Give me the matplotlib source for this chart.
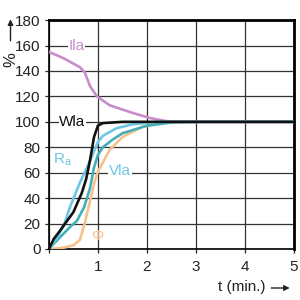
import matplotlib
matplotlib.use("Agg")
import matplotlib.pyplot as plt

plt.rcParams['font.family'] = ['Liberation Sans', 'DejaVu Sans']

# data
t_ila = [0, 0.3, 0.63, 0.73, 0.84, 0.98, 1.24, 1.71, 2.06, 2.4, 3, 5]
ila = [155, 150, 143, 139, 128, 120, 113, 107, 103, 100.5, 100, 100]

t_phi = [0, 0.3, 0.5, 0.63, 0.73, 0.84, 0.94, 1.0, 1.1, 1.24, 1.5, 1.9, 2.3, 3, 5]
phi = [0, 1, 3, 7, 20, 38, 54, 61, 68, 78, 88, 96, 99, 100, 100]

t_vla = [0, 0.22, 0.45, 0.57, 0.72, 0.84, 0.92, 1.0, 1.1, 1.3, 1.5, 2.0, 2.5, 3, 5]
vla = [0, 9, 18, 22, 33, 48, 64, 74, 80, 86, 91, 97, 99.5, 100, 100]

t_ra = [0, 0.15, 0.3, 0.43, 0.63, 0.8, 0.9, 1.0, 1.1, 1.38, 1.7, 2.2, 3, 5]
ra = [0, 8, 18, 33, 52, 66, 75, 84, 89, 95, 98, 100, 100, 100]

t_wla = [0, 0.1, 0.2, 0.33, 0.5, 0.67, 0.76, 0.84, 0.92, 1.0, 1.1, 1.5, 2, 3, 5]
wla = [0, 8, 13, 20, 29, 44, 55, 70, 88, 97, 99, 100, 100, 100, 100]

x_ticks = [0, 1, 2, 3, 4, 5]
x_labels = ['', '1', '2', '3', '4', '5']
y_ticks = [0, 20, 40, 60, 80, 100, 120, 140, 160, 180]

c_ila = '#c98ccb'
c_phi = '#f6c18e'
c_vla = '#45afb9'
c_ra = '#6cc6e6'
c_wla = '#111111'

fig = plt.figure(figsize=(3, 3), dpi=100)
ax = fig.add_axes([0.163, 0.17, 0.817, 0.763])

ax.plot(t_ila, ila, color=c_ila, lw=1.9, zorder=3)
ax.plot(t_phi, phi, color=c_phi, lw=1.9, zorder=3)
ax.plot(t_vla, vla, color=c_vla, lw=1.9, zorder=4)
ax.plot(t_ra, ra, color=c_ra, lw=1.9, zorder=4)
ax.plot(t_wla, wla, color=c_wla, lw=1.9, zorder=5)

ax.set_xlim(0, 5)
ax.set_ylim(0, 180)
ax.set_xticks(x_ticks)
ax.set_xticklabels(x_labels)
ax.set_yticks(y_ticks)
ax.grid(True, color='#333333', lw=0.9, zorder=1)
ax.set_axisbelow(True)
ax.tick_params(labelsize=11, length=3, width=0.9, colors='#222222', pad=3)
ax.tick_params(axis='x', pad=5)
for s in ['left', 'bottom']:
    ax.spines[s].set_linewidth(1.2)
for s in ['top', 'right']:
    ax.spines[s].set_linewidth(2.0)

bbox = dict(facecolor='white', edgecolor='none', pad=0.5)
ax.text(0.56, 160, 'Ila', color=c_ila, fontsize=11, ha='center', va='center', bbox=bbox, zorder=6)
ax.text(0.48, 100, 'Wla', color='#111111', fontsize=11, ha='center', va='center', bbox=bbox, zorder=6)
ax.text(0.28, 70, r'R$_\mathregular{a}$', color=c_ra, fontsize=11, ha='center', va='center', zorder=6)
ax.text(1.45, 61, 'Vla', color=c_ra, fontsize=11, ha='center', va='center', bbox=bbox, zorder=6)
ax.text(0.98, 10, 'Φ', color=c_phi, fontsize=11, ha='center', va='center', zorder=6)

fig.text(0.035, 0.80, '%', rotation=90, fontsize=12, ha='center', va='center', color='#222222')
ax.annotate('', xy=(0.035, 0.945), xytext=(0.035, 0.855), xycoords='figure fraction',
            arrowprops=dict(arrowstyle='-|>', color='#222222', lw=1.0, mutation_scale=8))
fig.text(0.805, 0.045, 't (min.)', fontsize=11, ha='center', va='center', color='#222222')
ax.annotate('', xy=(0.975, 0.04), xytext=(0.895, 0.04), xycoords='figure fraction',
            arrowprops=dict(arrowstyle='-|>', color='#222222', lw=1.0, mutation_scale=8))

fig.savefig('out.png', dpi=100, facecolor='white')
